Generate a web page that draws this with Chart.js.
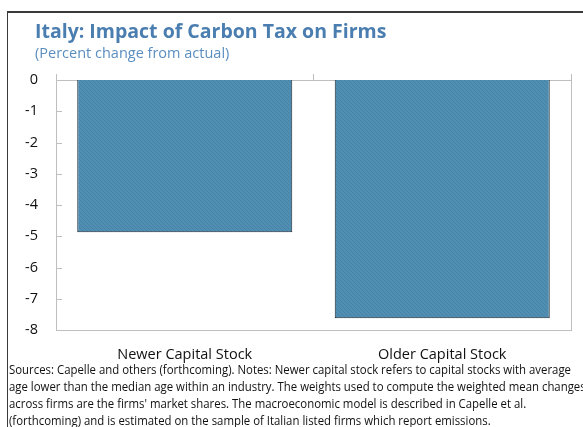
<!DOCTYPE html>
<html>
<head>
<meta charset="utf-8">
<script src="https://cdn.jsdelivr.net/npm/chart.js@4.4.0/dist/chart.umd.min.js"></script>
<style>
    html, body { margin: 0; padding: 0; background: #fff; }
    body { width: 583px; height: 427px; position: relative; overflow: hidden; font-family: "Open Sans", "Noto Sans", sans-serif; }
    #frame { position: absolute; left: 7px; top: 11px; width: 600px; height: 430px; border-left: 1px solid #3a3a3a; border-top: 2px solid #3a3a3a; box-sizing: border-box; }
    #title { position: absolute; left: 35px; top: 17px; font-size: 19.5px; font-weight: bold; color: #4A7EB0; white-space: nowrap; }
    #subtitle { position: absolute; left: 35px; top: 43px; font-size: 14.5px; color: #5A8EC0; white-space: nowrap; }
    #notes { position: absolute; left: 9px; top: 361px; font-size: 12.6px; line-height: 17px; color: #111; white-space: nowrap; transform-origin: 0 0; }
    #notes span { display: block; }
    #chart { position: absolute; left: 0; top: 0; }
</style>
</head>
<body>
<div id="frame"></div>
<canvas id="chart" width="583" height="427"></canvas>
<div id="title">Italy: Impact of Carbon Tax on Firms</div>
<div id="subtitle">(Percent change from actual)</div>
<div id="notes"><span id="noteFirst">Sources: Capelle and others (forthcoming). Notes: Newer capital stock refers to capital stocks with average</span><span>age lower than the median age within an industry. The weights used to compute the weighted mean changes</span><span>across firms are the firms' market shares. The macroeconomic model is described in Capelle et al.</span><span>(forthcoming) and is estimated on the sample of Italian listed firms which report emissions.</span></div>
<script>
var categories = ["Newer Capital Stock", "Older Capital Stock"];
var impactValues = [-4.87, -7.62];
var yTicks = [0, -1, -2, -3, -4, -5, -6, -7, -8];

// plot box edges in the picture
var PLOT_LEFT = 56, PLOT_RIGHT = 571, PLOT_TOP = 80, PLOT_BOTTOM = 330;
var AXIS_GRAY = "#BFBFBF";

// squeeze the notes so the first line ends where the original does
(function() {
    var first = document.getElementById("noteFirst");
    var range = document.createRange();
    range.selectNodeContents(first);
    var w = range.getBoundingClientRect().width;
    var sx = 562 / w;
    document.getElementById("notes").style.transform = "scaleX(" + sx + ")";
})();

function hatchPattern() {
    var c = document.createElement("canvas");
    c.width = 4; c.height = 4;
    var g = c.getContext("2d");
    g.fillStyle = "rgb(80,142,178)";
    g.fillRect(0, 0, 4, 4);
    g.strokeStyle = "rgb(70,130,166)";
    g.lineWidth = 1;
    g.beginPath();
    g.moveTo(0, 0); g.lineTo(4, 4);
    g.moveTo(-2, 2); g.lineTo(2, 6);
    g.moveTo(2, -2); g.lineTo(6, 2);
    g.stroke();
    return g.createPattern(c, "repeat");
}

var frameLines = {
    id: "frameLines",
    afterDatasetsDraw: function(chart) {
        var ctx = chart.ctx, a = chart.chartArea, y = chart.scales.y;
        ctx.save();
        ctx.strokeStyle = AXIS_GRAY;
        ctx.lineWidth = 1;
        ctx.beginPath();
        // right border
        ctx.moveTo(a.right + 0.5, a.top);
        ctx.lineTo(a.right + 0.5, a.bottom);
        // inner ticks on the value axis
        yTicks.forEach(function(v) {
            var py = Math.round(y.getPixelForValue(v)) + 0.5;
            ctx.moveTo(a.left, py);
            ctx.lineTo(a.left + 6, py);
        });
        ctx.stroke();
        ctx.restore();
    }
};

new Chart(document.getElementById("chart"), {
    type: "bar",
    data: {
        labels: categories,
        datasets: [{
            data: impactValues,
            backgroundColor: hatchPattern(),
            borderColor: "#1b2630",
            borderWidth: 1,
            borderSkipped: "start",
            barPercentage: 0.835,
            categoryPercentage: 1.0
        }]
    },
    options: {
        responsive: false,
        animation: false,
        layout: { padding: { left: 0, right: 583 - PLOT_RIGHT, top: 0, bottom: 0 } },
        plugins: { legend: { display: false }, tooltip: { enabled: false }, title: { display: false } },
        scales: {
            x: {
                position: "bottom",
                grid: { display: false },
                border: { display: true, color: AXIS_GRAY, width: 1 },
                ticks: { color: "#111", font: { family: "Open Sans", size: 14.5 }, padding: 8 },
                afterFit: function(s) { s.height = 427 - PLOT_BOTTOM; }
            },
            xTop: {
                type: "category",
                labels: categories,
                position: "top",
                grid: { display: true, offset: true, drawOnChartArea: false, tickLength: 6, color: AXIS_GRAY },
                border: { display: true, color: AXIS_GRAY, width: 1 },
                ticks: { display: false },
                afterFit: function(s) { s.height = PLOT_TOP; }
            },
            y: {
                min: -8,
                max: 0,
                grid: { display: false },
                border: { display: true, color: AXIS_GRAY, width: 1 },
                ticks: { stepSize: 1, color: "#111", font: { family: "Open Sans", size: 14.5 }, padding: 10 },
                afterFit: function(s) { s.width = PLOT_LEFT; }
            }
        }
    },
    plugins: [frameLines]
});
</script>
</body>
</html>
